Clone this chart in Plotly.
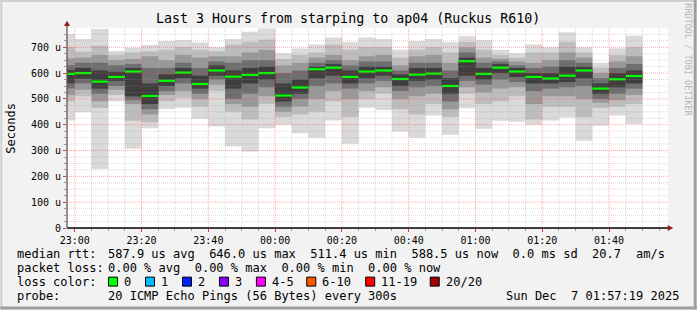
import plotly.graph_objects as go
from datetime import datetime, timedelta

# ---------------- data ----------------
bucket_start = ["22:55", "23:00", "23:05", "23:10", "23:15", "23:20", "23:25", "23:30", "23:35",
                "23:40", "23:45", "23:50", "23:55", "00:00", "00:05", "00:10", "00:15", "00:20",
                "00:25", "00:30", "00:35", "00:40", "00:45", "00:50", "00:55", "01:00", "01:05",
                "01:10", "01:15", "01:20", "01:25", "01:30", "01:35", "01:40", "01:45"]

# sorted-ping envelope per 5-minute bucket (microseconds)
ping_max = [751, 732, 771, 686, 698, 709, 724, 728, 718, 700, 732, 760, 773, 677, 695, 711, 738, 719,
            738, 732, 690, 724, 732, 719, 743, 728, 690, 677, 711, 700, 758, 700, 640, 696, 745]
ping_hi2 = [702, 683, 706, 670, 680, 685, 690, 700, 690, 685, 710, 720, 730, 655, 670, 680, 710, 690,
            700, 700, 660, 690, 700, 680, 720, 690, 670, 660, 680, 680, 720, 680, 620, 670, 700]
ping_hi3 = [657, 660, 670, 650, 655, 665, 650, 670, 660, 665, 665, 680, 690, 630, 640, 660, 670, 650,
            665, 670, 630, 665, 670, 640, 700, 660, 655, 645, 640, 650, 680, 660, 600, 645, 665]
ping_hi4 = [631, 640, 640, 630, 635, 620, 620, 640, 620, 645, 640, 650, 650, 600, 610, 640, 650, 630,
            645, 645, 610, 640, 640, 610, 680, 640, 645, 630, 620, 625, 650, 640, 580, 620, 635]
ping_hi5 = [612, 620, 610, 605, 620, 560, 595, 620, 590, 630, 610, 620, 625, 560, 575, 625, 635, 610,
            625, 625, 595, 620, 620, 580, 660, 620, 635, 620, 600, 600, 625, 625, 560, 600, 610]
median_rtt = [597, 600, 567, 585, 606, 511.4, 570, 602, 558, 610, 586, 593, 600, 513, 544, 615, 621, 585,
              606, 610, 577, 594, 598, 550, 646, 597, 621, 606, 585, 579, 590, 610, 540, 576, 588.5]
ping_lo5 = [561, 578, 540, 570, 510, 480, 550, 580, 540, 590, 540, 560, 575, 490, 520, 580, 590, 560,
            580, 590, 550, 570, 575, 520, 590, 575, 600, 585, 560, 560, 565, 580, 520, 545, 560]
ping_lo4 = [541, 560, 520, 550, 495, 460, 530, 560, 520, 575, 500, 520, 545, 470, 500, 550, 560, 540,
            560, 570, 530, 545, 550, 490, 570, 555, 575, 565, 530, 540, 545, 550, 500, 520, 540]
ping_lo3 = [515, 535, 490, 535, 480, 440, 515, 530, 500, 555, 480, 470, 510, 450, 470, 500, 530, 500,
            530, 545, 500, 510, 520, 460, 545, 525, 540, 545, 480, 510, 510, 500, 485, 495, 515]
ping_lo2 = [490, 510, 465, 515, 415, 410, 490, 505, 470, 530, 450, 420, 480, 430, 440, 450, 490, 430,
            500, 520, 460, 440, 480, 430, 520, 480, 490, 510, 420, 470, 470, 430, 465, 470, 480]
ping_min = [416, 448, 229, 490, 307, 386, 461, 466, 423, 393, 316, 296, 386, 400, 367, 350, 416, 326,
            466, 457, 374, 350, 436, 361, 464, 384, 415, 412, 400, 416, 428, 338, 397, 436, 403]

x_tick_labels = ["23:00", "23:20", "23:40", "00:00", "00:20", "00:40", "01:00", "01:20", "01:40"]
y_tick_values = [0, 100, 200, 300, 400, 500, 600, 700]
y_tick_labels = ["0", "100 u", "200 u", "300 u", "400 u", "500 u", "600 u", "700 u"]

loss_labels = ["0", "1", "2", "3", "4-5", "6-10", "11-19", "20/20"]
loss_colors = ["#00ff00", "#00bbff", "#0022ff", "#8a00ff", "#ff00ff", "#ff5500", "#ff0000", "#a10000"]

title_text = "Last 3 Hours from starping to ap04 (Ruckus R610)"
row_median = "587.9 us avg  646.0 us max  511.4 us min  588.5 us now  0.0 ms sd  20.7"
row_loss = "0.00 % avg  0.00 % max  0.00 % min  0.00 % now"
row_probe = "20 ICMP Echo Pings (56 Bytes) every 300s"
date_text = "Sun Dec  7 01:57:19 2025"

# ---------------- geometry helpers ----------------
W, H = 697, 310
L, R, T, B = 66.7, 668.3, 28.0, 228.3   # plot area in pixels
PW, PH = R - L, B - T


def px(x):
    return (x - L) / PW


def py(y):
    return (B - y) / PH


def to_dt(hm):
    h, m = map(int, hm.split(":"))
    day = 6 if h >= 12 else 7
    return datetime(2025, 12, day, h, m)


starts = [to_dt(s) for s in bucket_start]
step = timedelta(minutes=5)
centers = [s + step / 2 for s in starts]
bar_w = 300000  # ms

fig = go.Figure()

layers = [
    (ping_min, ping_max, "#dadada"),
    (ping_lo2, ping_hi2, "#bdbdbd"),
    (ping_lo3, ping_hi3, "#989898"),
    (ping_lo4, ping_hi4, "#6e6e6e"),
    (ping_lo5, ping_hi5, "#3e3e3e"),
]
for lo, hi, col in layers:
    fig.add_trace(go.Bar(
        x=centers, base=lo, y=[h - l for h, l in zip(hi, lo)], width=bar_w,
        marker=dict(color=col, line=dict(width=0)), showlegend=False, hoverinfo="skip"))

# step connector (dark dotted)
sx, sy = [], []
for s, m in zip(starts, median_rtt):
    sx += [s, s + step]
    sy += [m, m]
fig.add_trace(go.Scatter(x=sx, y=sy, mode="lines",
                         line=dict(color="#111111", width=1, dash="1px,1px"),
                         showlegend=False, hoverinfo="skip"))
# green medians
gx, gy = [], []
for s, m in zip(starts, median_rtt):
    gx += [s, s + step, None]
    gy += [m, m, None]
fig.add_trace(go.Scatter(x=gx, y=gy, mode="lines",
                         line=dict(color=loss_colors[0], width=2.2),
                         showlegend=False, hoverinfo="skip"))

x0 = datetime(2025, 12, 6, 22, 57, 40)
x1 = datetime(2025, 12, 7, 1, 57, 40)
tickvals = [datetime(2025, 12, 6, 23, 0) + timedelta(minutes=20 * i) for i in range(len(x_tick_labels))]

shapes = []
# grid on top of the smoke (like rrdtool)
t = datetime(2025, 12, 6, 23, 0)
while t < x1:
    major = (t.minute % 20 == 0)
    shapes.append(dict(type="line", xref="x", yref="paper", x0=t, x1=t, y0=0, y1=1, layer="above",
                       line=dict(color="rgba(255,60,60,0.45)" if major else "rgba(150,150,150,0.35)",
                                 width=1, dash="1px,1px")))
    t += step
for v in range(25, 775, 25):
    major = (v % 100 == 0)
    shapes.append(dict(type="line", xref="paper", yref="y", x0=0, x1=1, y0=v, y1=v, layer="above",
                       line=dict(color="rgba(255,60,60,0.45)" if major else "rgba(150,150,150,0.35)",
                                 width=1, dash="1px,1px")))

# axis lines + arrows
shapes.append(dict(type="line", xref="paper", yref="paper", x0=px(L), x1=px(669), y0=0, y1=0,
                   layer="above", line=dict(color="#000000", width=1.3)))
shapes.append(dict(type="line", xref="paper", yref="paper", x0=0, x1=0, y0=0, y1=py(25),
                   layer="above", line=dict(color="#5a5a5a", width=1.3)))
shapes.append(dict(type="path", xref="paper", yref="paper", layer="above",
                   path=f"M {px(668)} {py(225.3)} L {px(673.5)} {py(228.3)} L {px(668)} {py(231.3)} Z",
                   fillcolor="#9b1a1a", line=dict(width=0)))
shapes.append(dict(type="path", xref="paper", yref="paper", layer="above",
                   path=f"M {px(63.7)} {py(26)} L {px(L)} {py(20.8)} L {px(69.7)} {py(26)} Z",
                   fillcolor="#9b1a1a", line=dict(width=0)))

# image frame
shapes.append(dict(type="rect", xref="paper", yref="paper", x0=px(0), x1=px(W), y0=py(H), y1=py(0),
                   layer="below", fillcolor="#f2f2f2", line=dict(width=0)))
shapes.append(dict(type="rect", xref="paper", yref="paper", x0=px(0), x1=px(W), y0=py(2), y1=py(0),
                   layer="below", fillcolor="#cfcfcf", line=dict(width=0)))
shapes.append(dict(type="rect", xref="paper", yref="paper", x0=px(0), x1=px(2), y0=py(H), y1=py(0),
                   layer="below", fillcolor="#cfcfcf", line=dict(width=0)))
shapes.append(dict(type="rect", xref="paper", yref="paper", x0=px(0), x1=px(W), y0=py(H), y1=py(H - 3),
                   layer="below", fillcolor="#9e9e9e", line=dict(width=0)))
shapes.append(dict(type="rect", xref="paper", yref="paper", x0=px(W - 3), x1=px(W), y0=py(H), y1=py(0),
                   layer="below", fillcolor="#9e9e9e", line=dict(width=0)))
shapes.append(dict(type="rect", xref="paper", yref="paper", x0=0, x1=1, y0=0, y1=1,
                   layer="below", fillcolor="#ffffff", line=dict(width=0)))

MONO = "DejaVu Sans Mono"
ann = []


def text(x, y, s, size=12, color="#000000", xanchor="left", angle=0):
    ann.append(dict(x=px(x), y=py(y), xref="paper", yref="paper", text=s, showarrow=False,
                    xanchor=xanchor, yanchor="middle", textangle=angle,
                    font=dict(family=MONO, size=size, color=color)))


text(347.5, 18.5, title_text, size=13.3, xanchor="center")
text(10.5, 128, "Seconds", size=12, xanchor="center", angle=-90)
text(688, 60, "RRDTOOL / TOBI OETIKER", size=8.5, color="#b5b5b5", xanchor="center", angle=90)

text(15, 254, "median rtt:")
text(106, 254, row_median.replace(" ", "&nbsp;"))
text(634, 254, "am/s")
text(15, 268, "packet loss:")
text(106, 268, row_loss.replace(" ", "&nbsp;"))
text(15, 282, "loss color:")
text(15, 296, "probe:")
text(106, 296, row_probe.replace(" ", "&nbsp;"))
text(681, 296, date_text.replace(" ", "&nbsp;"), xanchor="right")

sq_x = [108.3, 145.3, 182.3, 219.3, 256.3, 306.7, 365.7, 430.3]
for xs, lab, col in zip(sq_x, loss_labels, loss_colors):
    shapes.append(dict(type="rect", xref="paper", yref="paper", layer="above",
                       x0=px(xs), x1=px(xs + 9), y0=py(286.5), y1=py(277.5),
                       fillcolor=col, line=dict(color="#000000", width=1)))
    text(xs + 13.5, 282, lab)

fig.update_layout(
    width=W, height=H,
    margin=dict(l=L, r=W - R, t=T, b=H - B, pad=0, autoexpand=False),
    paper_bgcolor="#f2f2f2", plot_bgcolor="rgba(0,0,0,0)",
    barmode="overlay", showlegend=False,
    shapes=shapes, annotations=ann,
    xaxis=dict(type="date", range=[x0, x1], tickvals=tickvals, ticktext=x_tick_labels,
               showgrid=False, zeroline=False, showline=False,
               ticks="outside", ticklen=3, tickcolor="#d04040", tickwidth=1,
               tickfont=dict(family=MONO, size=10, color="#000000"),
               minor=dict(ticks="outside", ticklen=2, tickcolor="#999999", dtick=300000,
                          tick0="2025-12-06 23:00", showgrid=False)),
    yaxis=dict(range=[0, PH * 700 / (B - 47.3)], tickvals=y_tick_values, ticktext=y_tick_labels,
               showgrid=False, zeroline=False, showline=False,
               ticks="outside", ticklen=3, tickcolor="#d04040", tickwidth=1,
               tickfont=dict(family=MONO, size=10, color="#000000"),
               minor=dict(ticks="outside", ticklen=2, tickcolor="#999999", dtick=25, showgrid=False)),
)

fig.write_html("out.html")
